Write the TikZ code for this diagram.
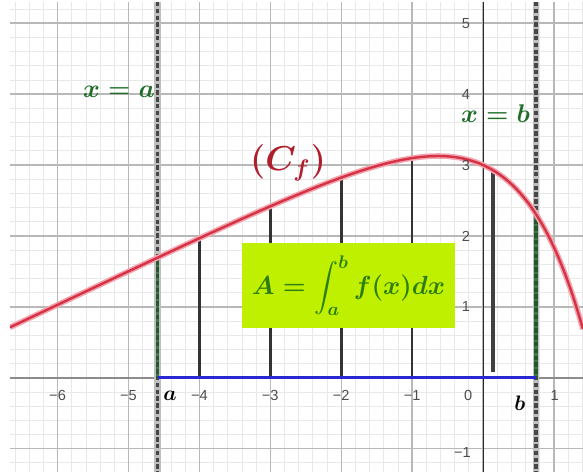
\RequirePackage{fix-cm}
\documentclass[tikz,border=0pt]{standalone}
\usepackage{amsmath}
\usepackage{fontspec}
\setsansfont{Liberation Sans}
\definecolor{curvered}{RGB}{214,50,70}
\definecolor{curvehalo}{RGB}{242,165,175}
\definecolor{labgreen}{RGB}{30,110,40}
\definecolor{boxgreen}{RGB}{45,125,20}
\definecolor{boxlime}{RGB}{190,240,0}
\definecolor{segblue}{RGB}{40,40,210}
\definecolor{cfred}{RGB}{175,30,45}
\begin{document}
\begin{tikzpicture}[x=35.45pt,y=35.45pt,
  declare function={f(\t)=3.88+0.475*\t-0.88*exp(1.05*\t);},
  minorgrid/.style={draw=black!9,line width=0.4pt},
  majorgrid/.style={draw=black!28,line width=0.7pt},
  ticklab/.style={font=\sffamily\fontsize{7.3}{8}\selectfont,text=black!70,inner sep=0pt},
  dashband/.style={draw=black!25,line width=3.2pt},
  dashcore/.style={draw=black!72,line width=1.8pt,dash pattern=on 2.2pt off 1.2pt},
  ordinate/.style={draw=black!80,line width=1.3pt},
  endseg/.style={draw=labgreen!85!black,line width=1.8pt},
  eqlabel/.style={text=labgreen,font=\fontsize{12.8}{14}\selectfont\boldmath,inner sep=0pt},
  ptlabel/.style={font=\fontsize{10.5}{12}\selectfont\boldmath,inner sep=0pt}
]
\useasboundingbox (-6.812,-1.330) rectangle (1.410,5.327);
\coordinate (BL) at (-6.672,-1.330);
\coordinate (TR) at (1.410,5.300);
\pgfmathsetmacro{\aa}{-4.59}
\pgfmathsetmacro{\bb}{0.75}
\coordinate (A0) at (\aa,0);
\coordinate (B0) at (\bb,0);
\coordinate (AF) at (\aa,{f(\aa)});
\coordinate (BF) at (\bb,{f(\bb)});
\coordinate (Atop) at (\aa,5.30);
\coordinate (Abot) at (\aa,-1.33);
\coordinate (Btop) at (\bb,5.30);
\coordinate (Bbot) at (\bb,-1.33);
\begin{scope}
\clip (BL) rectangle (TR);
\draw[minorgrid] (BL) grid[step=0.2] (TR);
\draw[majorgrid] (BL) grid[step=1] (TR);
\coordinate (XL) at (-6.672,0);
\coordinate (XR) at (1.41,0);
\coordinate (YB) at (0,-1.33);
\coordinate (YT) at (0,5.30);
\draw[black!45,line width=1pt] (XL) -- (XR);
\draw[black!85,line width=0.5pt] (YB) -- (YT);
% ordinates
\foreach \k in {-4,-3,-2,-1}{
  \coordinate (O\k) at (\k,0);
  \coordinate (F\k) at (\k,{f(\k)});
  \draw[ordinate] (O\k) -- (F\k);
}
\coordinate (Ml) at (0.14,0.08);
\coordinate (Mh) at (0.14,{f(0.14)});
\draw[draw=black!75,line width=2pt] (Ml) -- (Mh);
% dashed bounds
\draw[dashband] (Abot) -- (Atop);
\draw[dashband] (Bbot) -- (Btop);
\draw[dashcore] (Atop) -- (Abot);
\draw[dashcore] (Btop) -- (Bbot);
\draw[endseg,opacity=0.75] (A0) -- (AF);
\draw[endseg,opacity=0.75] (B0) -- (BF);
% curve
\draw[curvehalo,line width=2.8pt] plot[domain=-6.672:1.41,samples=140] (\x,{f(\x)});
\draw[curvered,line width=1.2pt] plot[domain=-6.672:1.41,samples=140] (\x,{f(\x)});
\draw[segblue,line width=1.6pt] (A0) -- (B0);
\end{scope}
% area box
\node[fill=boxlime,minimum width=106.5pt,minimum height=42.7pt,inner sep=0pt,
      text=boxgreen,font=\fontsize{13.1}{15}\selectfont\boldmath] (box) at (-1.898,1.302)
      {$A=\displaystyle\int_a^b f(x)dx$};
% tick labels
\foreach \k in {1,...,6}{
  \node[ticklab] (xt\k) at (-\k,-0.245) {−\k};
}
\node[ticklab] (xt0) at (-0.21,-0.245) {0};
\node[ticklab] (xtp1) at (1.01,-0.245) {1};
\foreach \k in {1,...,5}{
  \node[ticklab] (yt\k) at (-0.24,\k) {\k};
}
\node[ticklab] (ytm1) at (-0.29,-1.05) {−1};
% labels
\node[eqlabel] (xa) at (-5.134,4.03) {$x=a$};
\node[eqlabel] (xb) at (0.176,3.73) {$x=b$};
\node[font=\fontsize{17.28}{20}\selectfont\boldmath,text=cfred,inner sep=0pt] (cf) at (-2.75,3.03) {$(C_f)$};
\node[ptlabel] (la) at (-4.415,-0.258) {$a$};
\node[ptlabel] (lb) at (0.52,-0.36) {$b$};
\end{tikzpicture}
\end{document}
